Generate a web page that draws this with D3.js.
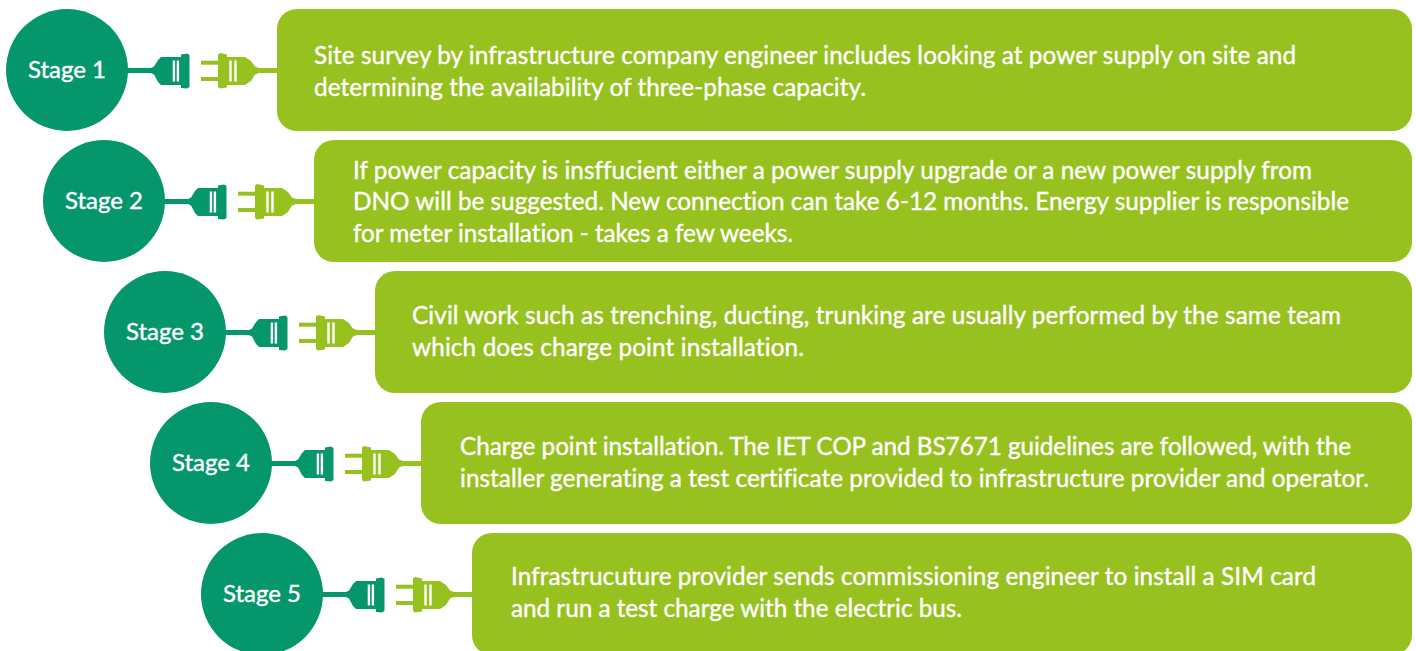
<!DOCTYPE html>
<html>
<head>
<meta charset="utf-8">
<script src="https://d3js.org/d3.v7.min.js"></script>
<style>
  html, body { margin: 0; padding: 0; background: #fff; overflow: hidden; }
  text { font-family: Lato, sans-serif; font-weight: 400; fill: #fff; stroke: #fff; stroke-width: 0.4px; font-variant-ligatures: none; }
</style>
</head>
<body>
<div id="chart"></div>
<script>
// the five stages and what each one says
var stages = ["Stage 1", "Stage 2", "Stage 3", "Stage 4", "Stage 5"];
var stage1Lines = ["Site survey by infrastructure company engineer includes looking at power supply on site and",
  "determining the availability of three-phase capacity."];
var stage2Lines = ["If power capacity is insffucient either a power supply upgrade or a new power supply from",
  "DNO will be suggested. New connection can take 6-12 months. Energy supplier is responsible",
  "for meter installation - takes a few weeks."];
var stage3Lines = ["Civil work such as trenching, ducting, trunking are usually performed by the same team",
  "which does charge point installation."];
var stage4Lines = ["Charge point installation. The IET COP and BS7671 guidelines are followed, with the",
  "installer generating a test certificate provided to infrastructure provider and operator."];
var stage5Lines = ["Infrastrucuture provider sends commissioning engineer to install a SIM card",
  "and run a test charge with the electric bus."];
var allLines = [stage1Lines, stage2Lines, stage3Lines, stage4Lines, stage5Lines];

var width = 1416, height = 651;
var dark = "#05966b", light = "#96c11e";

var svg = d3.select("#chart").append("svg")
  .attr("width", width)
  .attr("height", height)
  .style("display", "block");

// rows are stacked top to bottom, 122px tall with a 9px gap
var y = d3.scaleBand()
  .domain(stages)
  .range([9, 655])
  .paddingInner(9 / 131)
  .paddingOuter(0);

// every row steps in to the right by its own amount
var indent = d3.scaleOrdinal().domain(stages).range([67, 104, 165, 211, 262]);
var textPad = d3.scaleOrdinal().domain(stages).range([37, 39, 37, 39, 39]);
// small nudge of each text block, the rows are not quite alike
var textShift = d3.scaleOrdinal().domain(stages).range([1.8, 1.2, 0, 0, -1]);
// fitted widths of the text lines, row by row
var lineFit = [[982, 552], [959, 996, 440], [929, 392], [891, 909], [805, 451]];

var radius = 61, boxOffset = 210, lineGap = 31.6;

// plug shapes, x measured from the circle centre, y from the row centre
var socket = d3.line()([
  [60, -2], [84, -2], [87, -3.5], [91, -10], [94, -13], [114, -13], [114, -15.5], [120, -16.5],
  [122.5, -15], [122.5, 17], [120, 18.5], [114, 18], [114, 15], [94, 15], [91, 12], [87, 4.5], [84, 3], [60, 3]
]) + "Z";
var plug = d3.line()([
  [211, -2], [192, -2], [188, -3.5], [184, -9], [178, -13], [160, -13], [160, -15.5], [153, -17],
  [151, -15.5], [151, 17], [153, 18.5], [160, 17.5], [160, 15], [178, 15], [184, 11], [188, 4.5], [192, 3], [211, 3]
]) + "Z";

var rows = svg.selectAll("g.row")
  .data(stages)
  .enter()
  .append("g")
  .attr("class", "row")
  .attr("transform", function(d) { return "translate(" + indent(d) + "," + (y(d) + y.bandwidth() / 2) + ")"; });

rows.append("path").attr("d", socket).attr("fill", dark);
rows.append("path").attr("d", plug).attr("fill", light);

// prongs
[-9.3, 7].forEach(function(p) {
  rows.append("rect")
    .attr("x", 134).attr("y", p).attr("width", 18).attr("height", 4)
    .attr("fill", light);
});

// white slots on both plug halves
[105.7, 109.7, 162.3, 167.3].forEach(function(s) {
  rows.append("rect")
    .attr("x", s).attr("y", -9.5).attr("width", 2.4).attr("height", 21)
    .attr("fill", "#fff");
});

rows.append("circle")
  .attr("r", radius)
  .attr("fill", dark);

rows.append("text")
  .attr("text-anchor", "middle")
  .attr("y", 8)
  .style("font-size", "24px")
  .text(function(d) { return d; });

rows.append("rect")
  .attr("x", boxOffset)
  .attr("y", -y.bandwidth() / 2)
  .attr("width", function(d) { return 1412 - indent(d) - boxOffset; })
  .attr("height", y.bandwidth())
  .attr("rx", 20)
  .attr("fill", light);

rows.each(function(d, i) {
  var lines = allLines[i];
  d3.select(this).selectAll("text.line")
    .data(lines)
    .enter()
    .append("text")
    .attr("class", "line")
    .attr("x", boxOffset + textPad(d))
    .attr("y", function(l, j) { return (j - (lines.length - 1) / 2) * lineGap + 8 + textShift(d); })
    .attr("textLength", function(l, j) { return lineFit[i][j]; })
    .attr("lengthAdjust", "spacing")
    .style("font-size", "24.3px")
    .text(function(l) { return l; });
});
</script>
</body>
</html>
